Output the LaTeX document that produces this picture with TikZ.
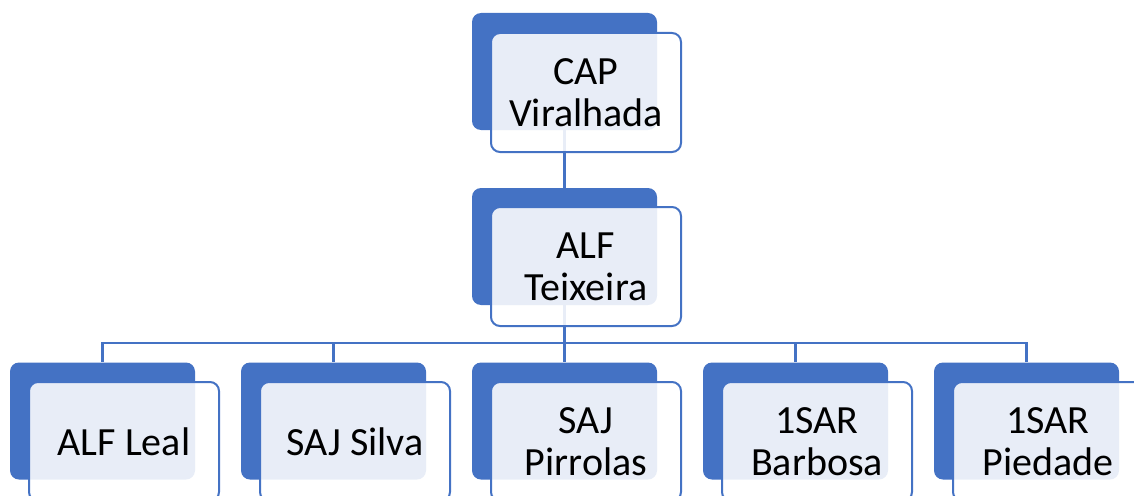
\documentclass[tikz,border=0pt]{standalone}
\usepackage{fontspec}
\setmainfont{Carlito}
\definecolor{officeblue}{HTML}{4472C4}
\tikzset{
  back/.style={fill=officeblue, rounded corners=9pt, minimum width=185pt,
    minimum height=117pt, inner sep=0pt},
  front/.style={draw=officeblue, line width=2pt, fill=white, fill opacity=0.88,
    text opacity=1, rounded corners=9pt, minimum width=190pt, minimum height=119pt,
    inner sep=0pt, align=center, font=\fontsize{40}{42}\selectfont},
  link/.style={draw=officeblue, line width=2.4pt}
}
\begin{document}
\begin{tikzpicture}[x=1pt,y=-1pt]
            \useasboundingbox (0,0) rectangle (1134,495);

            \node[back] (AA) at (564.5, 71.5) {};
            \node[back] (BA) at (564.5, 246.5) {};

            \node[back] (CA) at (102.5, 421) {};
            \node[back] (DA) at (333.5, 421) {};
            \node[back] (EA) at (564.5, 421) {};
            \node[back] (FA) at (795.5, 421) {};
            \node[back] (GA) at (1026.5, 421) {};

            \coordinate (J) at (564.5, 343);

            \draw[link] (AA) -- (BA);
            \draw[link] (BA) -- (J);
            \draw[link] (J) -| (CA);
            \draw[link] (J) -| (DA);
            \draw[link] (J) -- (EA);
            \draw[link] (J) -| (FA);
            \draw[link] (J) -| (GA);

            \node[front] (AB) at (586, 92.5) {CAP\\Viralhada};
            \node[front] (BB) at (586, 266.5) {ALF\\Teixeira};

            \node[front] (CB) at (124, 441.5) {ALF Leal};
            \node[front] (DB) at (355, 441.5) {SAJ Silva};
            \node[front] (EB) at (586, 441.5) {SAJ\\Pirrolas};
            \node[front] (FB) at (817, 441.5) {1SAR\\Barbosa};
            \node[front] (GB) at (1048, 441.5) {1SAR\\Piedade};
        \end{tikzpicture}
\end{document}
